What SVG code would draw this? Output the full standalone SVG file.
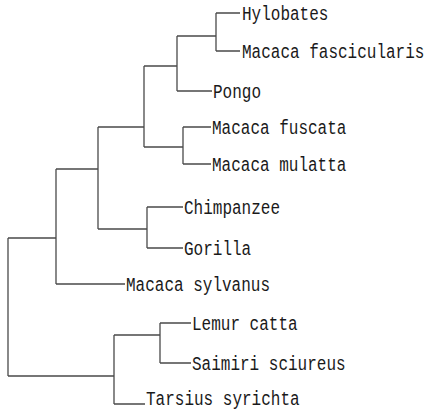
<svg xmlns="http://www.w3.org/2000/svg" width="426" height="410" viewBox="0 0 426 410">
<style>
.e{fill:none;stroke:#4a4a4a;stroke-width:1.3}
text{font-family:"Liberation Mono","DejaVu Sans Mono",monospace;font-size:16px;fill:#1a1a1a}
</style>
<rect width="426" height="410" fill="#fff"/>
<g id="connectors" class="e">
<path d="M8,238V376M8,238H56M8,376H114"/>
<path d="M56,169V284M56,169H98M56,284H125"/>
<path d="M98,127V229M98,127H144M98,229H147"/>
<path d="M144,66V147M144,66H177M144,147H183"/>
<path d="M177,36V91M177,36H216M177,91H212"/>
<path d="M216,13V51M216,13H240M216,51H240"/>
<path d="M183,127V164M183,127H211M183,164H211"/>
<path d="M147,207V248M147,207H183M147,248H183"/>
<path d="M114,335V404M114,335H160M114,404H145"/>
<path d="M160,323V363M160,323H191M160,363H191"/>
</g>
<g id="hylobates"><text transform="matrix(1,0,0,1.25,242,20)">Hylobates</text></g>
<g id="macaca-fascicularis"><text transform="matrix(1,0,0,1.25,242,58)">Macaca fascicularis</text></g>
<g id="pongo"><text transform="matrix(1,0,0,1.25,213,98)">Pongo</text></g>
<g id="macaca-fuscata"><text transform="matrix(1,0,0,1.25,212,134)">Macaca fuscata</text></g>
<g id="macaca-mulatta"><text transform="matrix(1,0,0,1.25,212,171)">Macaca mulatta</text></g>
<g id="chimpanzee"><text transform="matrix(1,0,0,1.25,184,214)">Chimpanzee</text></g>
<g id="gorilla"><text transform="matrix(1,0,0,1.25,184,255)">Gorilla</text></g>
<g id="macaca-sylvanus"><text transform="matrix(1,0,0,1.25,126,291)">Macaca sylvanus</text></g>
<g id="lemur-catta"><text transform="matrix(1,0,0,1.25,192,330)">Lemur catta</text></g>
<g id="saimiri-sciureus"><text transform="matrix(1,0,0,1.25,192,370)">Saimiri sciureus</text></g>
<g id="tarsius-syrichta"><text transform="matrix(1,0,0,1.25,146,405)">Tarsius syrichta</text></g>
</svg>
